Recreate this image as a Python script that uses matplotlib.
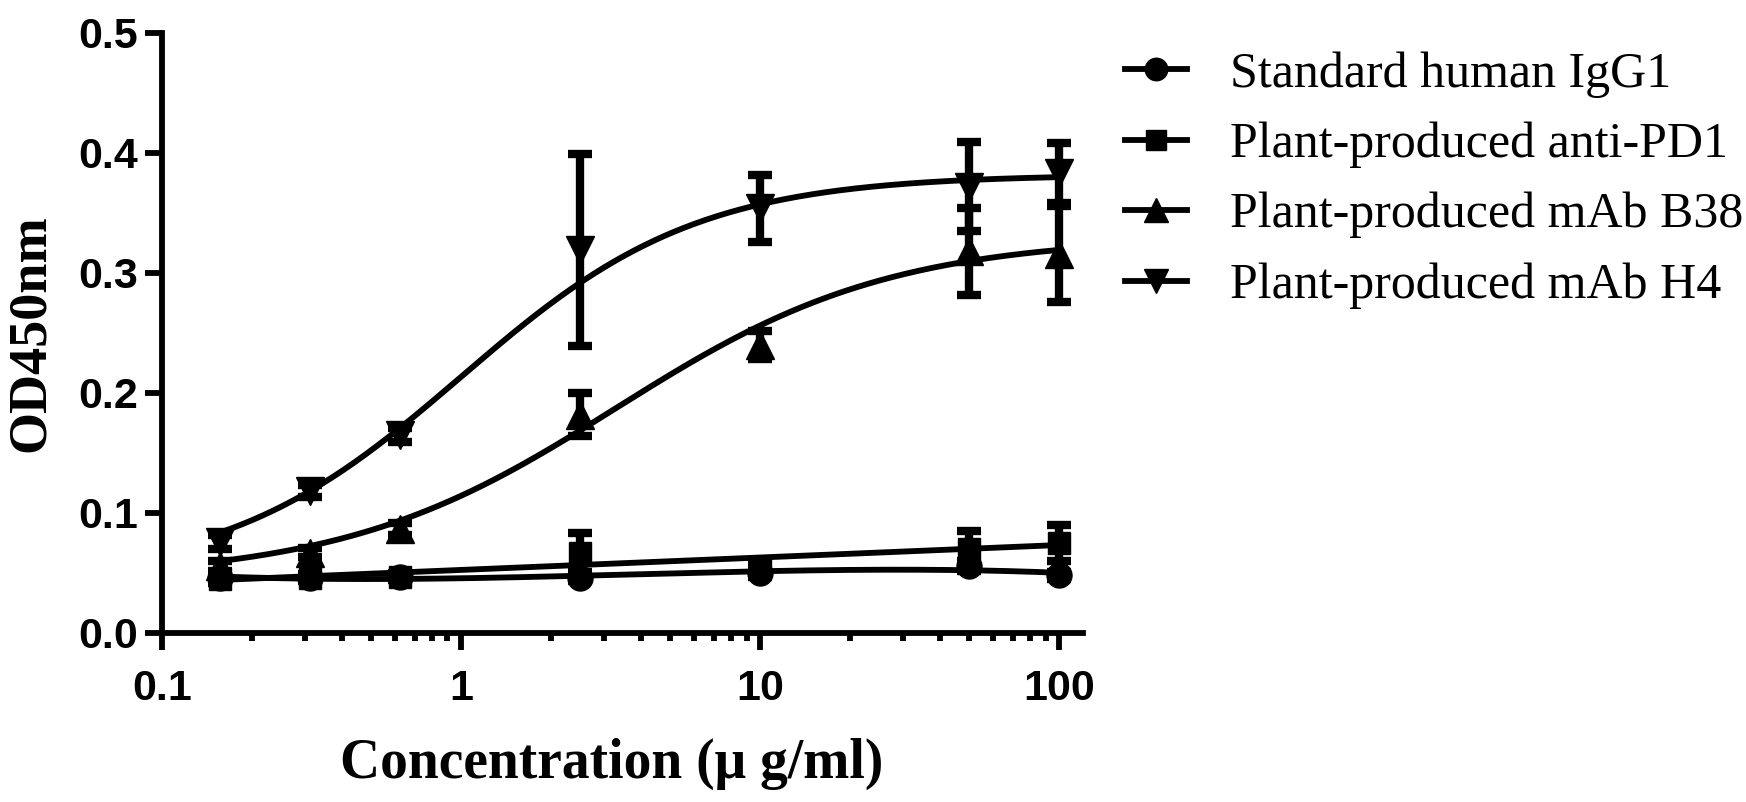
import numpy as np
import matplotlib
matplotlib.use("Agg")
import matplotlib.pyplot as plt
from matplotlib.lines import Line2D
from matplotlib.ticker import FixedLocator, NullFormatter, FuncFormatter

# antigen concentrations (ug/ml)
conc = [0.15625, 0.3125, 0.625, 2.5, 10, 50, 100]

series_names = ["Standard human IgG1", "Plant-produced anti-PD1",
                "Plant-produced mAb B38", "Plant-produced mAb H4"]
markers = ["o", "s", "^", "v"]
marker_sizes = [18, 16.5, 19.5, 19.5]

# OD450 mean and SD
igg1_mean = [0.046, 0.046, 0.047, 0.046, 0.050, 0.056, 0.048]
igg1_sd = [0.002, 0.002, 0.002, 0.003, 0.003, 0.004, 0.003]
pd1_mean = [0.045, 0.046, 0.047, 0.067, 0.055, 0.070, 0.075]
pd1_sd = [0.003, 0.003, 0.003, 0.016, 0.005, 0.015, 0.015]
b38_mean = [0.056, 0.067, 0.087, 0.182, 0.240, 0.318, 0.316]
b38_sd = [0.004, 0.004, 0.005, 0.018, 0.012, 0.036, 0.040]
h4_mean = [0.076, 0.118, 0.165, 0.319, 0.354, 0.372, 0.383]
h4_sd = [0.006, 0.005, 0.006, 0.080, 0.028, 0.037, 0.025]

means = [igg1_mean, pd1_mean, b38_mean, h4_mean]
sds = [igg1_sd, pd1_sd, b38_sd, h4_sd]

# 4PL fit parameters (bottom, top, EC50, hill) estimated from the drawn curves
b38_fit = [0.045, 0.330, 3.3, 0.95]
h4_fit = [0.045, 0.382, 1.0, 1.1]


def four_pl(x, p):
    bottom, top, ec50, hill = p
    return bottom + (top - bottom) / (1 + (ec50 / x) ** hill)


xs = np.logspace(np.log10(conc[0]), np.log10(conc[-1]), 300)
curves = []
# the two flat series: smooth trend through the means
for m, deg in [(igg1_mean, 3), (pd1_mean, 2)]:
    coef = np.polyfit(np.log10(conc), m, deg)
    curves.append(np.polyval(coef, np.log10(xs)))
curves.append(four_pl(xs, b38_fit))
curves.append(four_pl(xs, h4_fit))

W, H = 1746, 802
fig = plt.figure(figsize=(W / 100, H / 100), dpi=100)
ax = fig.add_axes([162 / W, 1 - 633 / H, (1083 - 162) / W, 600 / H])

lw = 4.2
for i in range(4):
    ax.plot(xs, curves[i], color="black", lw=lw, zorder=2, clip_on=False)
    ax.errorbar(conc, means[i], yerr=sds[i], fmt=markers[i], color="black",
                ms=marker_sizes[i], elinewidth=6, capsize=8.5, capthick=6,
                zorder=3 + i, clip_on=False)

ax.set_xscale("log")
ax.set_xlim(0.1, 120)
ax.set_ylim(0, 0.5)

ax.xaxis.set_major_locator(FixedLocator([0.1, 1, 10, 100]))
minor = [k * d for d in [0.1, 1, 10] for k in range(2, 10)]
ax.xaxis.set_minor_locator(FixedLocator(minor))
ax.xaxis.set_minor_formatter(NullFormatter())
ax.xaxis.set_major_formatter(FuncFormatter(lambda v, p: f"{v:g}"))
ax.yaxis.set_major_locator(FixedLocator([0, 0.1, 0.2, 0.3, 0.4, 0.5]))
ax.yaxis.set_major_formatter(FuncFormatter(lambda v, p: f"{v:.1f}"))

for s in ["top", "right"]:
    ax.spines[s].set_visible(False)
for s in ["left", "bottom"]:
    ax.spines[s].set_linewidth(4.2)

tick_font = dict(family="Liberation Sans", weight="bold", size=31)
ax.tick_params(axis="both", which="major", width=4.2, length=12)
ax.tick_params(axis="x", which="major", pad=14)
ax.tick_params(axis="y", which="major", pad=5)
ax.tick_params(axis="x", which="minor", width=4.2, length=6)
for lab in ax.get_xticklabels() + ax.get_yticklabels():
    lab.set_fontproperties(matplotlib.font_manager.FontProperties(**tick_font))

ax.set_xlabel("Concentration (\u03bc g/ml)", family="Liberation Serif",
              weight="bold", size=40)
ax.xaxis.set_label_coords(0.488, -0.175)
ax.set_ylabel("OD450nm", family="Liberation Serif", weight="bold",
              size=39, labelpad=16)

handles = [Line2D([], [], color="black", lw=lw, marker=markers[i],
                  ms=marker_sizes[i] * 0.9) for i in range(4)]
fig.legend(handles, series_names, loc="upper left",
           bbox_to_anchor=(1125 / W, 1 - 51 / H), frameon=False,
           borderpad=0, borderaxespad=0, handlelength=1.24,
           handletextpad=0.86, labelspacing=0.48,
           prop=dict(family="Liberation Serif", size=36))

fig.savefig("out.png", dpi=100)
